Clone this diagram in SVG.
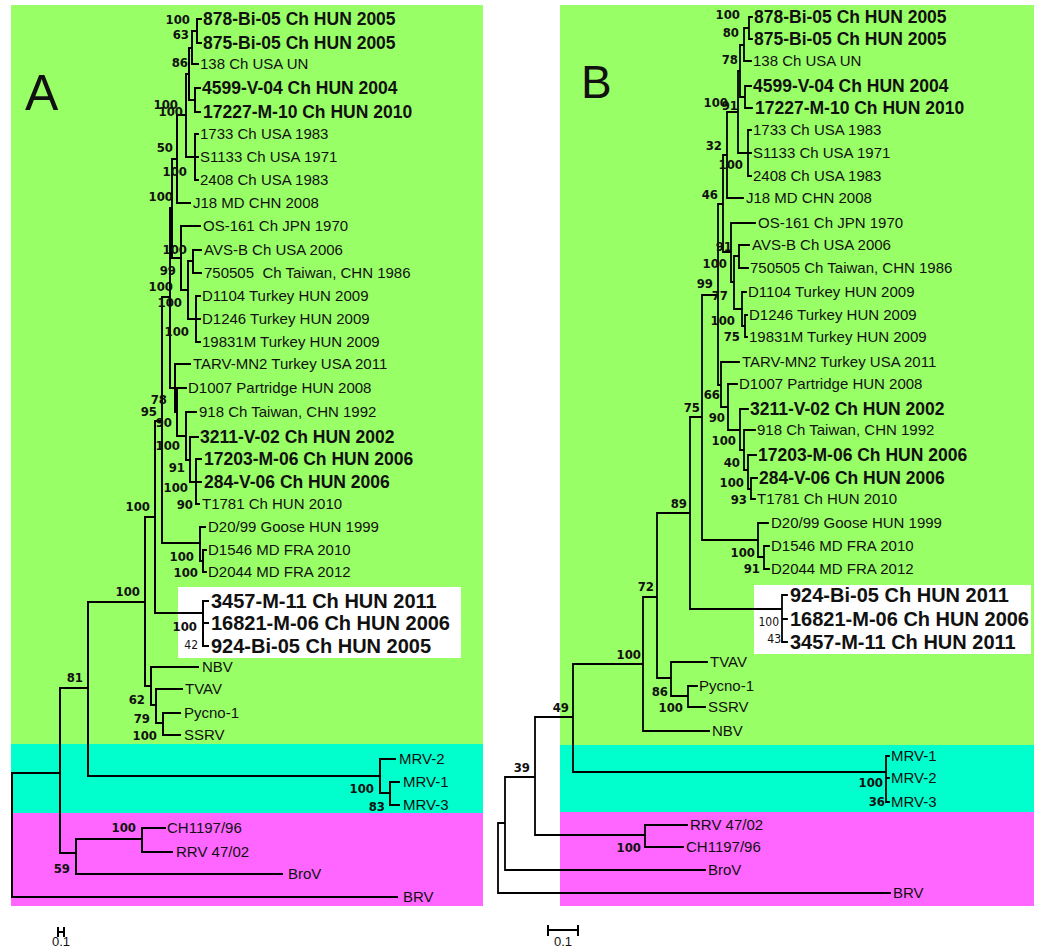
<svg xmlns="http://www.w3.org/2000/svg" width="1043" height="951" viewBox="0 0 1043 951">
<style>
.g{fill:#99FF66}.c{fill:#00FFCC}.m{fill:#FF66FF}.wb{fill:#FFFFFF}
.ln{stroke:#000;stroke-width:2;fill:none;stroke-linecap:square}
.lnb{stroke:#000;stroke-width:1.8;fill:none;stroke-linecap:square}
text{font-family:"Liberation Sans",Arial,sans-serif;fill:#111}
.t{font-size:15px}
.tb{font-size:17.5px;font-weight:bold}
.tw{font-size:20px;font-weight:bold}
.bs{font-family:"Liberation Sans Narrow","DejaVu Sans Condensed","Liberation Sans",sans-serif;font-size:13px;font-weight:bold;text-anchor:end}
.bn{font-family:"Liberation Sans Narrow","DejaVu Sans Condensed","Liberation Sans",sans-serif;font-size:12px;text-anchor:end}
.big{font-size:50px}
.sc{font-size:13px;text-anchor:middle}
</style>
<g id="background-A">
<rect class="g" x="11" y="5" width="472" height="739"/>
<rect class="c" x="11" y="744" width="472" height="69"/>
<rect class="m" x="11" y="813" width="472" height="93"/>
<rect class="wb" x="178" y="587" width="283" height="71"/>
</g>
<g id="background-B">
<rect class="g" x="560" y="5" width="474" height="740"/>
<rect class="c" x="560" y="745" width="474" height="67"/>
<rect class="m" x="560" y="812" width="474" height="94"/>
<rect class="wb" x="754" y="585" width="277" height="69"/>
</g>
<g id="connectors">
<path id="tree-A" class="ln" d="M197 19V43M192 31V64M195 88V112M189 48V100M195 134V180M186 74V157M177 115V203M193 250V273M196 296V342M188 261V319M181 226V290M172 159V258M196 459V504M190 437V482M186 412V460M177 388V436M175 364V412M170 208V388M203 550V572M200 527V561M162 297V543M203 601V646M155 421V613M163 713V735M156 689V723M151 667V705M145 517V686M88 602V776M390 782V805M380 759V793M60 688V853M76 839V874M142 828V852M12 773V897
M192 31H197M189 48H192M189 100H195M186 74H189M186 157H195M177 115H186M188 261H193M188 319H196M181 290H188M172 159H177M172 258H181M190 482H196M186 460H190M177 436H186M175 412H177M170 208H172M170 388H175M200 561H203M162 297H170M162 543H200M155 421H162M155 613H203M156 723H163M151 705H156M145 517H155M145 686H151M88 602H145M88 776H380M380 793H390M60 688H88M60 853H76M76 839H142M12 773H60
M197 19H201M197 43H201M192 64H198M195 88H200M195 112H200M195 134H198M195 157H198M195 180H198M177 203H190M181 226H200M193 250H201M193 273H201M196 296H200M196 319H200M196 342H200M175 364H190M177 388H186M186 412H196M190 437H198M196 459H201M196 482H201M196 504H199M200 527H205M203 550H206M203 572H206M203 601H208M203 623H208M203 646H208M151 667H198M156 689H182M163 713H180M163 735H180M380 759H395M390 782H399M390 805H399M142 828H165M142 852H172M76 874H282M12 897H397"/>
<path id="tree-B" class="lnb" d="M749 17V39M744 28V61M745 86V108M740 45V97M748 130V176M738 71V153M727 112V198M739 245V268M745 315V337M742 292V326M734 256V309M731 223V282M723 155V252M751 478V499M748 455V489M744 430V470M740 409V450M728 384V430M721 362V407M718 204V385M764 546V569M758 523V557M702 295V540M782 595V642M690 417V609M688 686V707M671 662V696M657 513V678M643 597V731M886 756V802M573 664V772M645 825V847M535 717V835M505 777V870M498 823V893
M744 28H749M740 45H744M740 97H745M738 71H740M738 153H748M727 112H738M742 326H745M734 256H739M734 309H742M731 282H734M723 155H727M723 252H731M748 489H751M744 470H748M740 450H744M728 430H740M721 407H728M718 204H723M718 385H721M758 557H764M702 295H718M702 540H758M690 417H702M690 609H782M671 696H688M657 513H690M657 678H671M643 597H657M573 664H643M573 772H886M535 717H573M535 835H645M505 777H535M498 823H505
M749 17H752M749 39H752M744 61H751M745 86H751M745 108H752M748 130H751M748 153H751M748 176H751M727 198H743M731 223H755M739 245H749M739 268H748M742 292H746M745 315H747M745 337H747M721 362H739M728 384H737M740 409H748M744 430H755M748 455H756M751 478H757M751 499H755M758 523H768M764 546H769M764 569H769M782 595H787M782 619H787M782 642H787M671 662H707M688 686H697M688 707H705M643 731H709M886 756H889M886 778H889M886 802H889M645 825H687M645 847H683M505 870H705M498 893H890"/>
<path id="scalebar-A" class="ln" d="M58 932H64M58 928V936M64 928V936"/>
<path id="scalebar-B" class="ln" d="M548 930H578M548 926V935M578 926V935"/>
</g>
<g id="panel-labels">
<text class="big" x="25" y="110">A</text>
<text class="big" x="581" y="98" style="font-size:46px">B</text>
<text class="sc" x="61" y="946">0.1</text>
<text class="sc" x="563" y="946">0.1</text>
</g>
<g id="nodes-A">
<g id="a878"><text class="tb" x="203" y="25">878-Bi-05 Ch HUN 2005</text></g>
<g id="a875"><text class="tb" x="203" y="49">875-Bi-05 Ch HUN 2005</text></g>
<g id="a138"><text class="t" x="200" y="69">138 Ch USA UN</text></g>
<g id="a4599"><text class="tb" x="202" y="94">4599-V-04 Ch HUN 2004</text></g>
<g id="a17227"><text class="tb" x="203" y="118">17227-M-10 Ch HUN 2010</text></g>
<g id="a1733"><text class="t" x="200" y="139">1733 Ch USA 1983</text></g>
<g id="aS1133"><text class="t" x="200" y="162">S1133 Ch USA 1971</text></g>
<g id="a2408"><text class="t" x="200" y="185">2408 Ch USA 1983</text></g>
<g id="aJ18"><text class="t" x="193" y="208">J18 MD CHN 2008</text></g>
<g id="aOS161"><text class="t" x="203" y="231">OS-161 Ch JPN 1970</text></g>
<g id="aAVSB"><text class="t" x="204" y="255">AVS-B Ch USA 2006</text></g>
<g id="a750505"><text class="t" x="204" y="278" xml:space="preserve">750505  Ch Taiwan, CHN 1986</text></g>
<g id="aD1104"><text class="t" x="202" y="301">D1104 Turkey HUN 2009</text></g>
<g id="aD1246"><text class="t" x="202" y="324">D1246 Turkey HUN 2009</text></g>
<g id="a19831M"><text class="t" x="202" y="347">19831M Turkey HUN 2009</text></g>
<g id="aTARV"><text class="t" x="193" y="369">TARV-MN2 Turkey USA 2011</text></g>
<g id="aD1007"><text class="t" x="188" y="393">D1007 Partridge HUN 2008</text></g>
<g id="a918"><text class="t" x="199" y="417">918 Ch Taiwan, CHN 1992</text></g>
<g id="a3211"><text class="tb" x="200" y="443">3211-V-02 Ch HUN 2002</text></g>
<g id="a17203"><text class="tb" x="204" y="465">17203-M-06 Ch HUN 2006</text></g>
<g id="a284"><text class="tb" x="204" y="488">284-V-06 Ch HUN 2006</text></g>
<g id="aT1781"><text class="t" x="202" y="509">T1781 Ch HUN 2010</text></g>
<g id="aD20"><text class="t" x="208" y="532">D20/99 Goose HUN 1999</text></g>
<g id="aD1546"><text class="t" x="208" y="555">D1546 MD FRA 2010</text></g>
<g id="aD2044"><text class="t" x="208" y="577">D2044 MD FRA 2012</text></g>
<g id="a3457"><text class="tw" x="211" y="608">3457-M-11 Ch HUN 2011</text></g>
<g id="a16821"><text class="tw" x="211" y="630">16821-M-06 Ch HUN 2006</text></g>
<g id="a924"><text class="tw" x="211" y="653">924-Bi-05 Ch HUN 2005</text></g>
<g id="aNBV"><text class="t" x="202" y="672">NBV</text></g>
<g id="aTVAV"><text class="t" x="185" y="694">TVAV</text></g>
<g id="aPycno"><text class="t" x="184" y="718">Pycno-1</text></g>
<g id="aSSRV"><text class="t" x="184" y="740">SSRV</text></g>
<g id="aMRV2"><text class="t" x="399" y="764">MRV-2</text></g>
<g id="aMRV1"><text class="t" x="403" y="787">MRV-1</text></g>
<g id="aMRV3"><text class="t" x="403" y="810">MRV-3</text></g>
<g id="aCH1197"><text class="t" x="167" y="833">CH1197/96</text></g>
<g id="aRRV"><text class="t" x="176" y="857">RRV 47/02</text></g>
<g id="aBroV"><text class="t" x="288" y="879">BroV</text></g>
<g id="aBRV"><text class="t" x="403" y="902">BRV</text></g>
</g>
<g id="support-A">
<text class="bs" x="190" y="24">100</text><text class="bs" x="189" y="39">63</text><text class="bs" x="188" y="67">86</text>
<text class="bs" x="178" y="109">100</text><text class="bs" x="183" y="116">100</text><text class="bs" x="173" y="152">50</text>
<text class="bs" x="187" y="176">100</text><text class="bs" x="173" y="201">100</text><text class="bs" x="187" y="254">100</text>
<text class="bs" x="176" y="275">99</text><text class="bs" x="173" y="291">100</text><text class="bs" x="182" y="307">100</text>
<text class="bs" x="189" y="336">100</text><text class="bs" x="167" y="404">78</text><text class="bs" x="157" y="416">95</text>
<text class="bs" x="172" y="427">90</text><text class="bs" x="180" y="450">100</text><text class="bs" x="185" y="472">91</text>
<text class="bs" x="188" y="492">100</text><text class="bs" x="193" y="509">90</text><text class="bs" x="150" y="511">100</text>
<text class="bs" x="194" y="561">100</text><text class="bs" x="198" y="577">100</text><text class="bs" x="140" y="596">100</text>
<text class="bs" x="197" y="631">100</text><text class="bn" x="198" y="649">42</text>
<text class="bs" x="83" y="682">81</text><text class="bs" x="145" y="704">62</text><text class="bs" x="150" y="723">79</text>
<text class="bs" x="157" y="740">100</text><text class="bs" x="374" y="793">100</text><text class="bs" x="385" y="811">83</text>
<text class="bs" x="136" y="832">100</text><text class="bs" x="70" y="873">59</text>
</g>
<g id="nodes-B">
<g id="b878"><text class="tb" x="754" y="23">878-Bi-05 Ch HUN 2005</text></g>
<g id="b875"><text class="tb" x="754" y="45">875-Bi-05 Ch HUN 2005</text></g>
<g id="b138"><text class="t" x="753" y="66">138 Ch USA UN</text></g>
<g id="b4599"><text class="tb" x="753" y="92">4599-V-04 Ch HUN 2004</text></g>
<g id="b17227"><text class="tb" x="755" y="114">17227-M-10 Ch HUN 2010</text></g>
<g id="b1733"><text class="t" x="753" y="135">1733 Ch USA 1983</text></g>
<g id="bS1133"><text class="t" x="753" y="158">S1133 Ch USA 1971</text></g>
<g id="b2408"><text class="t" x="753" y="181">2408 Ch USA 1983</text></g>
<g id="bJ18"><text class="t" x="746" y="203">J18 MD CHN 2008</text></g>
<g id="bOS161"><text class="t" x="758" y="228">OS-161 Ch JPN 1970</text></g>
<g id="bAVSB"><text class="t" x="752" y="250">AVS-B Ch USA 2006</text></g>
<g id="b750505"><text class="t" x="750" y="273">750505 Ch Taiwan, CHN 1986</text></g>
<g id="bD1104"><text class="t" x="748" y="297">D1104 Turkey HUN 2009</text></g>
<g id="bD1246"><text class="t" x="749" y="320">D1246 Turkey HUN 2009</text></g>
<g id="b19831M"><text class="t" x="749" y="342">19831M Turkey HUN 2009</text></g>
<g id="bTARV"><text class="t" x="742" y="367">TARV-MN2 Turkey USA 2011</text></g>
<g id="bD1007"><text class="t" x="739" y="389">D1007 Partridge HUN 2008</text></g>
<g id="b3211"><text class="tb" x="750" y="415">3211-V-02 Ch HUN 2002</text></g>
<g id="b918"><text class="t" x="757" y="435">918 Ch Taiwan, CHN 1992</text></g>
<g id="b17203"><text class="tb" x="758" y="461">17203-M-06 Ch HUN 2006</text></g>
<g id="b284"><text class="tb" x="759" y="484">284-V-06 Ch HUN 2006</text></g>
<g id="bT1781"><text class="t" x="757" y="504">T1781 Ch HUN 2010</text></g>
<g id="bD20"><text class="t" x="771" y="528">D20/99 Goose HUN 1999</text></g>
<g id="bD1546"><text class="t" x="771" y="551">D1546 MD FRA 2010</text></g>
<g id="bD2044"><text class="t" x="771" y="574">D2044 MD FRA 2012</text></g>
<g id="b924"><text class="tw" x="790" y="602">924-Bi-05 Ch HUN 2011</text></g>
<g id="b16821"><text class="tw" x="790" y="626">16821-M-06 Ch HUN 2006</text></g>
<g id="b3457"><text class="tw" x="790" y="649">3457-M-11 Ch HUN 2011</text></g>
<g id="bTVAV"><text class="t" x="710" y="667">TVAV</text></g>
<g id="bPycno"><text class="t" x="699" y="691">Pycno-1</text></g>
<g id="bSSRV"><text class="t" x="708" y="712">SSRV</text></g>
<g id="bNBV"><text class="t" x="712" y="736">NBV</text></g>
<g id="bMRV1"><text class="t" x="891" y="761">MRV-1</text></g>
<g id="bMRV2"><text class="t" x="891" y="783">MRV-2</text></g>
<g id="bMRV3"><text class="t" x="891" y="807">MRV-3</text></g>
<g id="bRRV"><text class="t" x="690" y="830">RRV 47/02</text></g>
<g id="bCH1197"><text class="t" x="686" y="852">CH1197/96</text></g>
<g id="bBroV"><text class="t" x="708" y="875">BroV</text></g>
<g id="bBRV"><text class="t" x="893" y="898">BRV</text></g>
</g>
<g id="support-B">
<text class="bs" x="740" y="19">100</text><text class="bs" x="739" y="37">80</text><text class="bs" x="738" y="64">78</text>
<text class="bs" x="728" y="107">100</text><text class="bs" x="738" y="110">91</text><text class="bs" x="722" y="150">32</text>
<text class="bs" x="743" y="169">100</text><text class="bs" x="718" y="199">46</text><text class="bs" x="732" y="251">91</text>
<text class="bs" x="727" y="268">100</text><text class="bs" x="713" y="288">99</text><text class="bs" x="728" y="300">77</text>
<text class="bs" x="735" y="325">100</text><text class="bs" x="740" y="341">75</text><text class="bs" x="720" y="399">66</text>
<text class="bs" x="700" y="412">75</text><text class="bs" x="725" y="422">90</text><text class="bs" x="736" y="445">100</text>
<text class="bs" x="740" y="467">40</text><text class="bs" x="744" y="487">100</text><text class="bs" x="747" y="504">93</text>
<text class="bs" x="687" y="508">89</text><text class="bs" x="755" y="557">100</text><text class="bs" x="760" y="573">91</text>
<text class="bs" x="654" y="591">72</text><text class="bn" x="779" y="626">100</text><text class="bn" x="781" y="643">43</text>
<text class="bs" x="641" y="659">100</text><text class="bs" x="668" y="696">86</text><text class="bs" x="683" y="712">100</text>
<text class="bs" x="569" y="712">49</text><text class="bs" x="883" y="787">100</text><text class="bs" x="885" y="806">36</text>
<text class="bs" x="530" y="772">39</text><text class="bs" x="641" y="852">100</text>
</g>
</svg>
